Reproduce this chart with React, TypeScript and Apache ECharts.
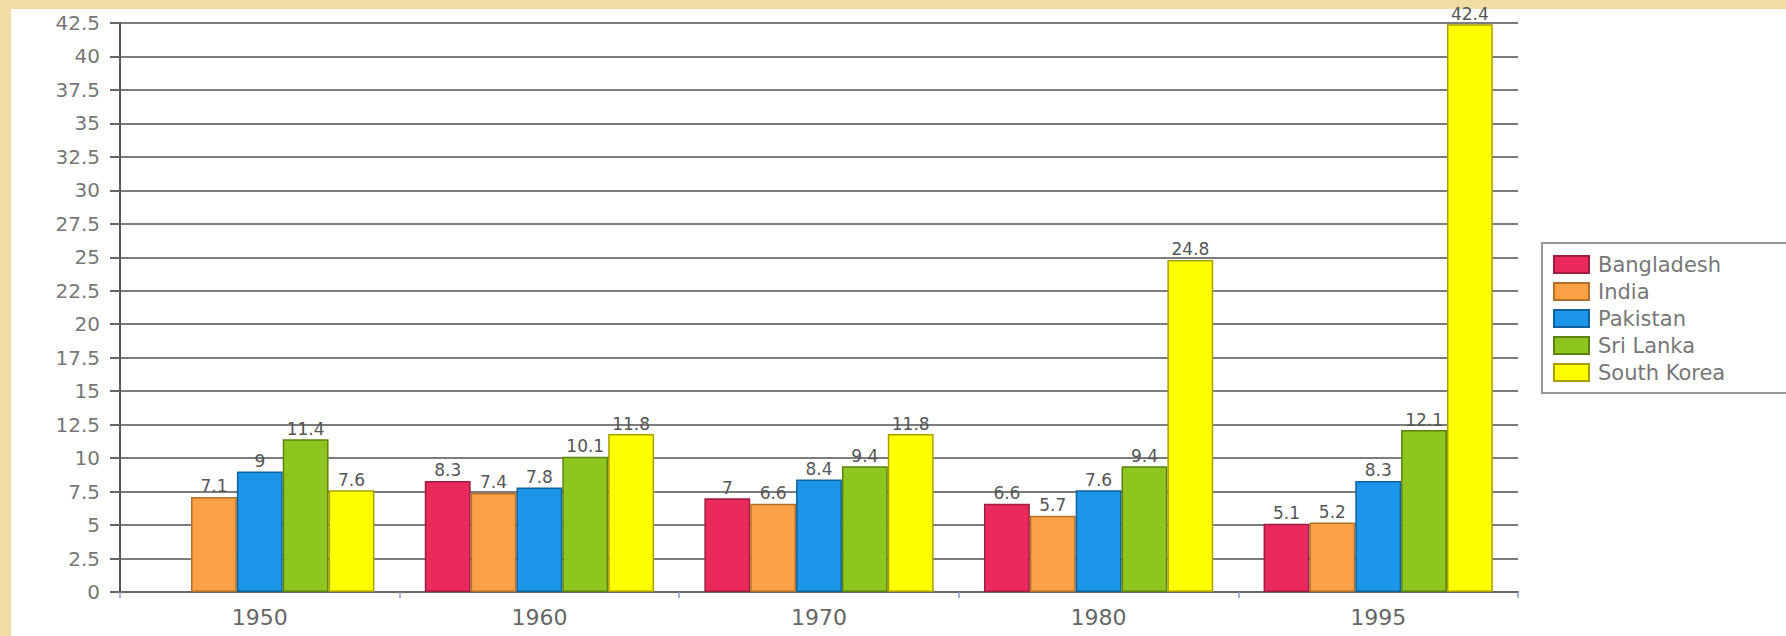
import React, { useEffect, useRef } from "react";
import * as echarts from "echarts";

const years = ["1950", "1960", "1970", "1980", "1995"];
const bangladesh = [null, 8.3, 7, 6.6, 5.1];
const india = [7.1, 7.4, 6.6, 5.7, 5.2];
const pakistan = [9, 7.8, 8.4, 7.6, 8.3];
const sriLanka = [11.4, 10.1, 9.4, 9.4, 12.1];
const southKorea = [7.6, 11.8, 11.8, 24.8, 42.4];

const seriesDefs = [
  { name: "Bangladesh", data: bangladesh, color: "#EA2A5C", border: "#9E1C3E" },
  { name: "India", data: india, color: "#F9A144", border: "#B4702A" },
  { name: "Pakistan", data: pakistan, color: "#1C96E8", border: "#11629A" },
  { name: "Sri Lanka", data: sriLanka, color: "#8FC51F", border: "#5C8212" },
  { name: "South Korea", data: southKorea, color: "#FFFF00", border: "#A8A000" },
];

const FONT = "DejaVu Sans";

export default function App() {
  const ref = useRef<HTMLDivElement>(null);
  useEffect(() => {
    if (!ref.current) return;
    const chart = echarts.init(ref.current, null, { renderer: "svg" });
    chart.setOption({
      animation: false,
      backgroundColor: "#ffffff",
      grid: { left: 120, right: 268, top: 23, bottom: 44, containLabel: false },
      xAxis: {
        type: "category",
        data: years,
        axisLine: { lineStyle: { color: "#666", width: 2 } },
        axisTick: { show: true, length: 6, lineStyle: { color: "#8899cc", width: 1.5 } },
        axisLabel: { color: "#666", fontSize: 22, fontFamily: FONT, margin: 14 },
        splitLine: { show: false },
      },
      yAxis: {
        type: "value",
        min: 0,
        max: 42.5,
        interval: 2.5,
        axisLine: { show: true, lineStyle: { color: "#555", width: 2 } },
        axisTick: { show: true, length: 10, lineStyle: { color: "#666", width: 2 } },
        axisLabel: { color: "#777", fontSize: 20, fontFamily: FONT, margin: 20 },
        splitLine: { show: true, lineStyle: { color: "#7c7c7c", width: 2 } },
      },
      legend: {
        orient: "vertical",
        left: 1553,
        top: 254,
        padding: 0,
        itemWidth: 35,
        itemHeight: 17,
        itemGap: 6,
        icon: "rect",
        textStyle: {
          color: "#777",
          fontSize: 21,
          fontFamily: FONT,
          padding: [0, 0, 0, 4],
        },
        data: seriesDefs.map((s) => s.name),
      },
      graphic: [
        { type: "rect", shape: { x: 0, y: 0, width: 1786, height: 9 }, style: { fill: "#F1DCA4" }, silent: true },
        { type: "rect", shape: { x: 0, y: 0, width: 11, height: 636 }, style: { fill: "#F1DCA4" }, silent: true },
        {
          type: "rect",
          shape: { x: 1542, y: 243, width: 280, height: 150 },
          style: { fill: "none", stroke: "#999", lineWidth: 2 },
          silent: true,
        },
      ],
      series: seriesDefs.map((s) => ({
        name: s.name,
        type: "bar",
        data: s.data,
        barGap: "0%",
        barCategoryGap: "18%",
        itemStyle: { color: s.color, borderColor: s.border, borderWidth: 1.5 },
        label: {
          show: true,
          position: "top",
          distance: 2,
          color: "#555",
          fontSize: 17,
          fontFamily: FONT,
        },
      })),
    });
    return () => chart.dispose();
  }, []);
  return (
    <div
      ref={ref}
      style={{ position: "fixed", left: 0, top: 0, width: 1786, height: 636 }}
    />
  );
}
